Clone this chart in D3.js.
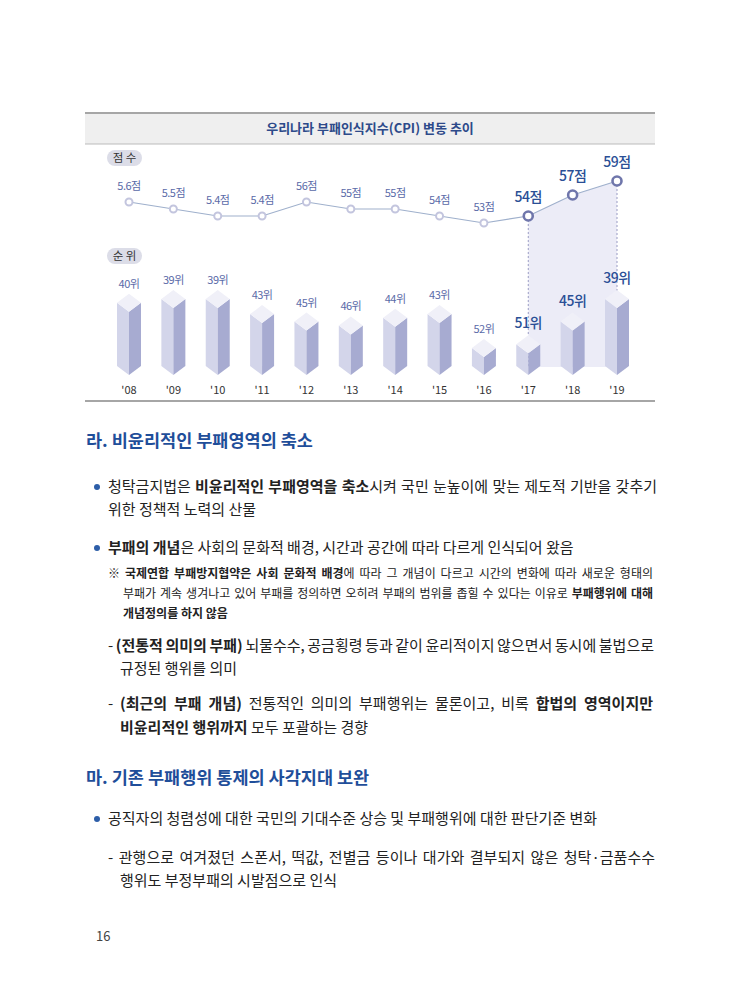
<!DOCTYPE html><html><head><meta charset="utf-8">
<script src="https://cdn.jsdelivr.net/npm/d3@7"></script>
<style>body{margin:0;background:#fff}svg{font-family:"Noto Sans CJK KR","Noto Sans",sans-serif}</style></head><body>
<svg id="c" width="740" height="1005"></svg>
<script>
const years=["'08","'09","'10","'11","'12","'13","'14","'15","'16","'17","'18","'19"];
const scores=[56,55,54,54,56,55,55,54,53,54,57,59];
const scoreLabels=["5.6점","5.5점","5.4점","5.4점","56점","55점","55점","54점","53점","54점","57점","59점"];
const ranks=[40,39,39,43,45,46,44,43,52,51,45,39];
const highlightFrom=9;
const svg=d3.select("#c");
const x=d3.scalePoint().domain(years).range([129,617]);
const ys=d3.scaleLinear().domain([53,59]).range([223,181]);
const yr=d3.scaleLinear().domain([39,52]).range([308,357]);
const base=375;
svg.append("line").attr("x1",85).attr("x2",655).attr("y1",113).attr("y2",113).attr("stroke","#888").attr("stroke-width",1.5);
svg.append("rect").attr("x",85).attr("y",114).attr("width",570).attr("height",30).attr("fill","#efefef");
svg.append("line").attr("x1",85).attr("x2",655).attr("y1",144).attr("y2",144).attr("stroke","#bbb");
svg.append("text").attr("x",370).attr("y",133).attr("text-anchor","middle").attr("font-size",13).attr("font-weight",700).attr("fill","#2d4a8a").text("우리나라 부패인식지수(CPI) 변동 추이");
function pill(y,t){svg.append("rect").attr("x",107).attr("y",y).attr("width",35).attr("height",16).attr("rx",8).attr("fill","#dcdde8");
svg.append("text").attr("x",124.5).attr("y",y+12).attr("text-anchor","middle").attr("font-size",11.5).attr("fill","#333").text(t);}
pill(150,"점 수");pill(248,"순 위");
const hl=years.slice(highlightFrom);
const areaPts=hl.map((d,i)=>[x(d),ys(scores[highlightFrom+i])]);
svg.append("path").attr("d",d3.area().x(d=>d[0]).y0(367).y1(d=>d[1])(areaPts)).attr("fill","#ececf7");
[hl[0],hl[hl.length-1]].forEach((d,k)=>{const v=scores[k?scores.length-1:highlightFrom];
svg.append("line").attr("x1",x(d)).attr("x2",x(d)).attr("y1",ys(v)).attr("y2",367).attr("stroke","#9a9cc4").attr("stroke-dasharray","2,2");});
svg.append("path").attr("d",d3.line().x((d,i)=>x(years[i])).y(d=>ys(d))(scores)).attr("fill","none").attr("stroke","#9fb0cc").attr("stroke-width",1.2);
scores.forEach((v,i)=>{const h=i>=highlightFrom;
svg.append("circle").attr("cx",x(years[i])).attr("cy",ys(v)).attr("r",h?4.5:3.5).attr("fill","#fff").attr("stroke",h?"#6f76ab":"#c3c5de").attr("stroke-width",h?2.6:2);
svg.append("text").attr("x",x(years[i])).attr("y",ys(v)-(h?14:12)).attr("text-anchor","middle").attr("font-size",h?14:11).attr("letter-spacing",-0.5).attr("font-weight",h?500:400).attr("fill",h?"#2a4f96":"#5a6aa8").text(scoreLabels[i]);});
ranks.forEach((r,i)=>{const cx=x(years[i]),t=yr(r),w=12,d=9;
svg.append("polygon").attr("points",`${cx-w},${t-d} ${cx},${t} ${cx},${base} ${cx-w},${base-d}`).attr("fill","#d3d5ea");
svg.append("polygon").attr("points",`${cx},${t} ${cx+w},${t-d} ${cx+w},${base-d} ${cx},${base}`).attr("fill","#a7abd1");
svg.append("polygon").attr("points",`${cx-w},${t-d} ${cx},${t-2*d} ${cx+w},${t-d} ${cx},${t}`).attr("fill","#f0f0f8");
const h=i>=highlightFrom;
svg.append("text").attr("x",cx).attr("y",t-2*d-(h?7:6)).attr("text-anchor","middle").attr("font-size",h?14:11).attr("letter-spacing",-0.5).attr("font-weight",h?500:400).attr("fill",h?"#2a4f96":"#5a6aa8").text(r+"위");
svg.append("text").attr("x",cx).attr("y",394).attr("text-anchor","middle").attr("font-size",11).attr("fill","#333").text(years[i]);});
svg.append("line").attr("x1",85).attr("x2",655).attr("y1",401).attr("y2",401).attr("stroke","#888").attr("stroke-width",1.5);
function line(xp,y,size,parts,justify){const t=svg.append("text").attr("x",xp).attr("y",y).attr("font-size",size).attr("fill","#222");
parts.forEach(p=>{const s=typeof p==="string"?{t:p}:p;t.append("tspan").attr("font-weight",s.b?700:400).text(s.t);});
if(justify){const n=t.text().split(" ").length-1;const w=t.node().getComputedTextLength();if(n>0)t.attr("word-spacing",(justify-xp-w)/n);}}
function bullet(y){svg.append("circle").attr("cx",97).attr("cy",y-5).attr("r",3).attr("fill","#2d5ea8");}
function head(y,t){svg.append("text").attr("x",86).attr("y",y).attr("font-size",17.5).attr("font-weight",700).attr("fill","#1f4e9a").text(t);}
const F=15;
head(447,"라. 비윤리적인 부패영역의 축소");
bullet(492);line(108,492,F,["청탁금지법은 ",{t:"비윤리적인 부패영역을 축소",b:1},"시켜 국민 눈높이에 맞는 제도적 기반을 갖추기"],657);
line(108,515,F,["위한 정책적 노력의 산물"]);
bullet(553);line(108,553,F,[{t:"부패의 개념",b:1},"은 사회의 문화적 배경, 시간과 공간에 따라 다르게 인식되어 왔음"]);
line(108,578,12,["※ ",{t:"국제연합 부패방지협약은 사회 문화적 배경",b:1},"에 따라 그 개념이 다르고 시간의 변화에 따라 새로운 형태의"],653);
line(123,598,12,["부패가 계속 생겨나고 있어 부패를 정의하면 오히려 부패의 범위를 좁힐 수 있다는 이유로 ",{t:"부패행위에 대해",b:1}],653);
line(123,618,12,[{t:"개념정의를 하지 않음",b:1}]);
line(108,651,F,["- ",{t:"(전통적 의미의 부패)",b:1}," 뇌물수수, 공금횡령 등과 같이 윤리적이지 않으면서 동시에 불법으로"],654);
line(120,674,F,["규정된 행위를 의미"]);
line(108,709,F,["- ",{t:"(최근의 부패 개념)",b:1}," 전통적인 의미의 부패행위는 물론이고, 비록 ",{t:"합법의 영역이지만",b:1}],653);
line(120,733,F,[{t:"비윤리적인 행위까지",b:1}," 모두 포괄하는 경향"]);
head(784,"마. 기존 부패행위 통제의 사각지대 보완");
bullet(824);line(108,824,F,["공직자의 청렴성에 대한 국민의 기대수준 상승 및 부패행위에 대한 판단기준 변화"]);
line(108,863,F,["- 관행으로 여겨졌던 스폰서, 떡값, 전별금 등이나 대가와 결부되지 않은 청탁·금품수수"],655);
line(120,886,F,["행위도 부정부패의 시발점으로 인식"]);
svg.append("text").attr("x",96).attr("y",941).attr("font-size",13).attr("fill","#444").text("16");
</script></body></html>
